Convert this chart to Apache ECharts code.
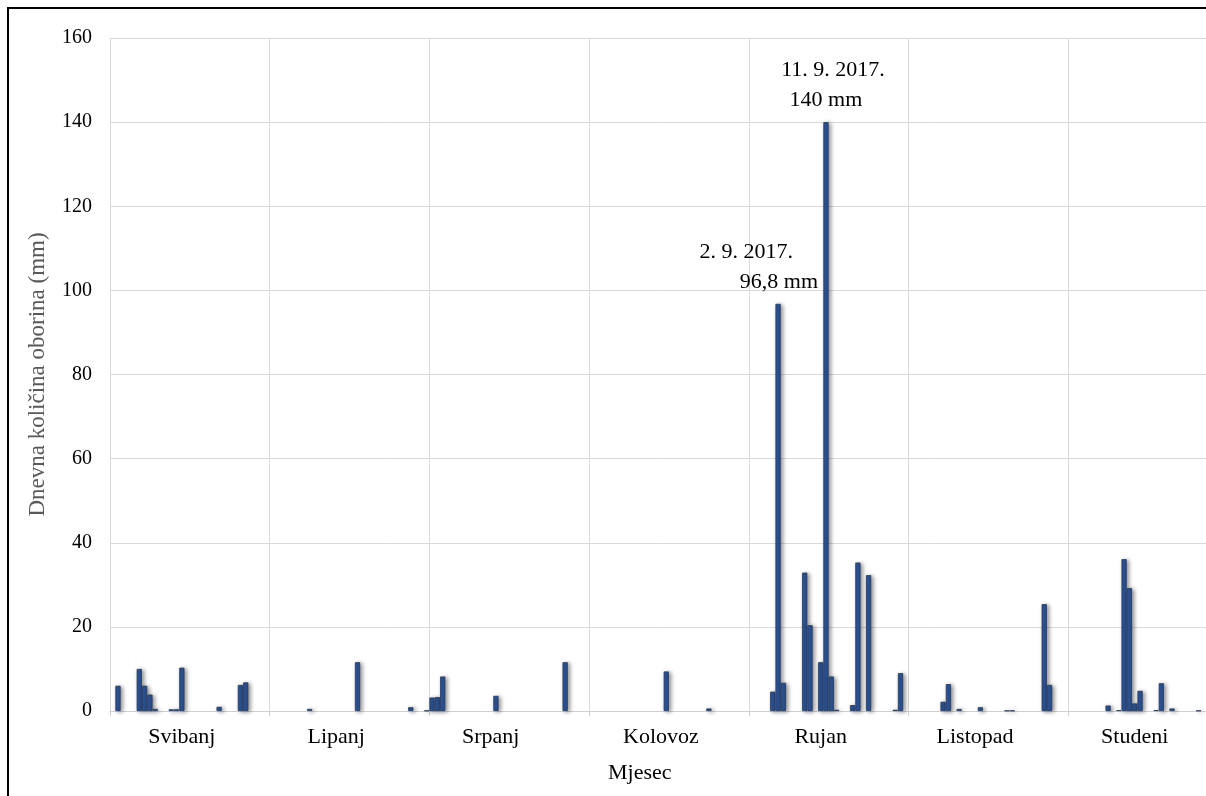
<!DOCTYPE html>
<html>
<head>
<meta charset="utf-8">
<script src="https://cdn.jsdelivr.net/npm/echarts@6.0.0/dist/echarts.min.js"></script>
<style>
html,body{margin:0;padding:0;background:#fff;}
#chart{width:1206px;height:796px;}
</style>
</head>
<body>
<div id="chart"></div>
<script>
// ---- data ----
const slotCount = 210;                       // daily category slots on the axis
const rainDays = [1,5,6,7,8,11,12,13,20,24,25,
                  37,46,56,59,60,61,62,72,85,
                  104,112,124,125,126,130,131,133,134,135,136,139,140,142,147,148,
                  156,157,159,163,168,169,175,176,
                  187,189,190,191,192,193,196,197,199,204];
const rainMm   = [6.0,10.0,6.0,3.9,0.5,0.4,0.4,10.3,1.0,6.2,6.8,
                  0.5,11.6,0.9,0.1,3.2,3.3,8.2,3.6,11.6,
                  9.4,0.6,4.6,96.8,6.7,32.9,20.4,11.6,140,8.2,0.3,1.4,35.3,32.3,0.3,9.0,
                  2.2,6.4,0.5,0.9,0.1,0.1,25.4,6.2,
                  1.3,0.2,36.1,29.2,1.8,4.8,0.2,6.6,0.6,0.1];
const monthNames = ['Svibanj','Lipanj','Srpanj','Kolovoz','Rujan','Listopad','Studeni'];
const monthLabelSlots = [13,42,71,103,133,162,192];
const gridEvery = 30;
const yTicks = [0,20,40,60,80,100,120,140,160];
const noteDays = [125,134];
const noteDates = ['2. 9. 2017.','11. 9. 2017.'];
const noteValues = ['96,8 mm','140 mm'];
const yTitle = 'Dnevna količina oborina (mm)';
const xTitle = 'Mjesec';

// ---- build ----
const FONT = "'Liberation Serif','Times New Roman',serif";
const slots = Array.from({length: slotCount}, (_, i) => String(i));
const values = new Array(slotCount).fill(null);
rainDays.forEach((d, k) => { values[d] = rainMm[k]; });

const noteStyles = [
  {position:'top', distance:0, align:'right', offset:[40,-6.5],
   rich:{d:{padding:[0,25,0,0]}, v:{}}},
  {position:'top', distance:0, align:'center', offset:[0,-6.5],
   rich:{d:{padding:[0,0,0,14]}, v:{}}}
];
const seriesData = values.map((v, i) => {
  const n = noteDays.indexOf(i);
  if (n < 0) return v;
  const ns = noteStyles[n];
  const rich = {};
  Object.keys(ns.rich).forEach(key => {
    rich[key] = Object.assign({fontFamily:FONT, fontSize:22, color:'#000', lineHeight:30}, ns.rich[key]);
  });
  return {
    value: v,
    label: {
      show: true,
      position: ns.position,
      distance: ns.distance,
      align: ns.align,
      offset: ns.offset,
      fontFamily: FONT, fontSize: 22, color: '#000', lineHeight: 30,
      formatter: '{d|' + noteDates[n] + '}\n{v|' + noteValues[n] + '}',
      rich: rich
    }
  };
});

const chart = echarts.init(document.getElementById('chart'), null, {renderer:'canvas'});
const gridLine = (i) => i % gridEvery === 0;
chart.setOption({
  animation: false,
  backgroundColor: '#ffffff',
  grid: {left: 110, top: 38, width: 5.3233 * slotCount, height: 673,
         containLabel: false, outerBoundsMode: 'none'},
  xAxis: {
    type: 'category',
    data: slots,
    boundaryGap: true,
    axisLine: {show: true, lineStyle: {color: '#d0d0d0', width: 1}},
    axisTick: {show: true, interval: gridLine, length: 5, lineStyle: {color: '#d0d0d0'}},
    splitLine: {show: true, interval: gridLine, lineStyle: {color: '#d9d9d9', width: 1}},
    axisLabel: {
      show: true,
      interval: (i) => monthLabelSlots.indexOf(i) >= 0,
      formatter: (val, idx) => {
        const m = monthLabelSlots.indexOf(Number(val));
        return m >= 0 ? monthNames[m] : '';
      },
      margin: 15,
      fontFamily: FONT, fontSize: 22, color: '#000'
    }
  },
  yAxis: {
    type: 'value',
    min: yTicks[0], max: yTicks[yTicks.length - 1], interval: yTicks[1] - yTicks[0],
    axisLine: {show: false},
    axisTick: {show: false},
    splitLine: {show: true, lineStyle: {color: '#d9d9d9', width: 1}},
    axisLabel: {margin: 18, fontFamily: FONT, fontSize: 20, color: '#000'},
    name: yTitle,
    nameLocation: 'middle',
    nameGap: 61,
    nameTextStyle: {fontFamily: FONT, fontSize: 23, color: '#595959'}
  },
  series: [{
    type: 'bar',
    data: seriesData,
    barCategoryGap: '2%',
    itemStyle: {
      color: '#2F5597',
      borderColor: '#1F3864',
      borderWidth: 0.8,
      shadowColor: 'rgba(0,0,0,0.45)',
      shadowBlur: 4,
      shadowOffsetX: 2,
      shadowOffsetY: 1
    }
  }],
  graphic: [
    {type: 'polyline', silent: true, shape: {points: [[8,796],[8,8],[1206,8]]},
     style: {stroke: '#000', lineWidth: 2, fill: null}},
    {type: 'text', left: 640 - 32, top: 762,
     style: {text: xTitle, font: "22px " + FONT, fill: '#000'}}
  ]
});
</script>
</body>
</html>
